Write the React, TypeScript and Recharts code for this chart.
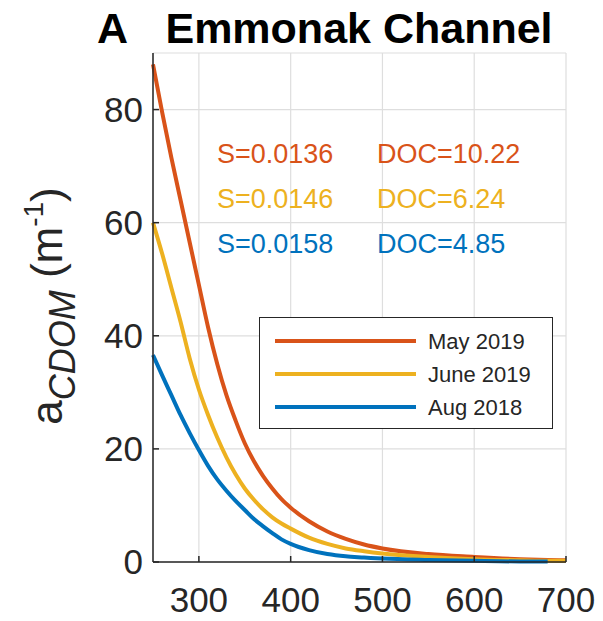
import { LineChart, Line, XAxis, YAxis, CartesianGrid, Legend, Customized } from "recharts";

// wavelength (nm) and absorption spectra a_CDOM (m^-1)
const wavelengths = [250, 260, 270, 280, 290, 300, 310, 320, 330, 340, 350, 360, 370, 380, 390, 400, 420, 440, 460, 480, 500, 550, 600, 650, 680, 700];
const may2019 = [88, 79.5, 71.5, 64, 56.5, 49, 41.5, 35, 29.5, 25, 21, 17.8, 15.2, 13, 11.1, 9.6, 7.2, 5.4, 4.1, 3.1, 2.4, 1.4, 0.9, 0.5, 0.35, 0.3];
const june2019 = [60, 54.5, 48.5, 42.5, 36, 30.5, 26, 22, 18.5, 15.5, 13, 11, 9.3, 7.9, 6.8, 5.9, 4.3, 3.2, 2.4, 1.9, 1.5, 0.9, 0.5, 0.3, 0.2, 0.2];
const aug2018 = [36.6, 33, 29.5, 26, 22.8, 19.8, 17, 14.6, 12.6, 10.8, 9.2, 7.6, 6.3, 5.1, 4.0, 3.2, 2.1, 1.4, 1.0, 0.8, 0.6, 0.35, 0.2, 0.1, 0.1, null];

const xTicks = [300, 400, 500, 600, 700];
const yTicks = [0, 20, 40, 60, 80];

const seriesNames = ["May 2019", "June 2019", "Aug 2018"];
const slopes = ["S=0.0136", "S=0.0146", "S=0.0158"];
const docs = ["DOC=10.22", "DOC=6.24", "DOC=4.85"];
const colors = ["#D95319", "#EDB120", "#0072BD"];

const data = wavelengths.map((w, i) => ({
  w,
  may: may2019[i],
  june: june2019[i],
  aug: aug2018[i],
}));

const FONT = "'Liberation Sans', Arial, Helvetica, sans-serif";
const INK = "#262626";

function Overlay() {
  return (
    <g fontFamily={FONT}>
      <text x={97} y={43} fontSize={43} fontWeight="bold" fill="#000">A</text>
      <text x={359} y={43} fontSize={43} fontWeight="bold" fill="#000" textAnchor="middle">
        Emmonak Channel
      </text>
      {slopes.map((s, i) => (
        <g key={s} fill={colors[i]} fontSize={27}>
          <text x={217} y={163 + i * 45}>{s}</text>
          <text x={377} y={163 + i * 45}>{docs[i]}</text>
        </g>
      ))}
      <text
        x={62}
        y={306}
        transform="rotate(-90, 62, 306)"
        textAnchor="middle"
        fontSize={44}
        fill={INK}
      >
        a
        <tspan dy={13} fontSize={36} fontStyle="italic">CDOM</tspan>
        <tspan dy={-13}> (m</tspan>
        <tspan dy={-19} fontSize={28}>-1</tspan>
        <tspan dy={19}>)</tspan>
      </text>
    </g>
  );
}

function LegendBox() {
  return (
    <svg width={292} height={110} style={{ display: "block" }}>
      {seriesNames.map((name, i) => (
        <g key={name}>
          <line x1={15} x2={156} y1={23 + i * 33} y2={23 + i * 33} stroke={colors[i]} strokeWidth={4} />
          <text x={168} y={31 + i * 33} fontSize={22} fontFamily={FONT} fill={INK}>
            {name}
          </text>
        </g>
      ))}
    </svg>
  );
}

export default function App() {
  return (
    <div style={{ position: "absolute", left: 0, top: 0, background: "#fff" }}>
      <LineChart width={603} height={621} data={data} margin={{ top: 53, right: 37, bottom: 0, left: 0 }}>
        <CartesianGrid stroke="#dedede" strokeWidth={1.2} />
        <XAxis
          dataKey="w"
          type="number"
          domain={[250, 700]}
          ticks={xTicks}
          height={59}
          tickSize={-6}
          tickMargin={31}
          axisLine={{ stroke: INK, strokeWidth: 1.5 }}
          tickLine={{ stroke: INK, strokeWidth: 1.5 }}
          tick={{ fill: INK, fontSize: 35, fontFamily: FONT }}
        />
        <YAxis
          type="number"
          domain={[0, 90]}
          ticks={yTicks}
          width={153}
          tickSize={-6}
          tickMargin={16}
          axisLine={{ stroke: INK, strokeWidth: 1.5 }}
          tickLine={{ stroke: INK, strokeWidth: 1.5 }}
          tick={{ fill: INK, fontSize: 35, fontFamily: FONT }}
        />
        <Line dataKey="may" stroke={colors[0]} strokeWidth={4} dot={false} type="monotone" isAnimationActive={false} />
        <Line dataKey="june" stroke={colors[1]} strokeWidth={4} dot={false} type="monotone" isAnimationActive={false} />
        <Line dataKey="aug" stroke={colors[2]} strokeWidth={4} dot={false} type="monotone" isAnimationActive={false} />
        <Legend
          layout="vertical"
          align="center"
          verticalAlign="middle"
          content={() => <LegendBox />}
          wrapperStyle={{
            left: 259,
            top: 317,
            width: 292,
            height: 110,
            border: `1.5px solid ${INK}`,
            background: "#fff",
          }}
        />
        <Customized component={<Overlay />} />
      </LineChart>
    </div>
  );
}
